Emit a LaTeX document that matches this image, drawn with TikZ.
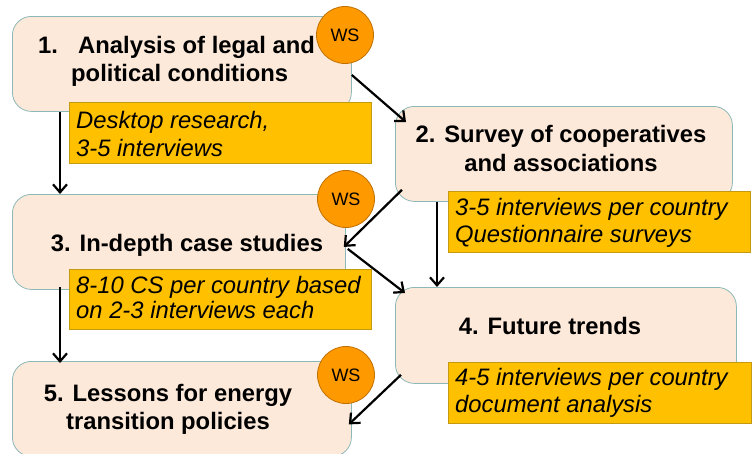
\documentclass[tikz,border=0pt]{standalone}
\usepackage{fontspec}
\setmainfont{Liberation Sans}
\usetikzlibrary{arrows.meta,calc}
\definecolor{boxfill}{HTML}{FDE9DA}
\definecolor{boxline}{HTML}{8DB8B8}
\definecolor{noteFill}{HTML}{FFC000}
\definecolor{noteLine}{HTML}{C49A10}
\definecolor{wsFill}{HTML}{FF9900}
\definecolor{wsLine}{HTML}{C07000}
\tikzset{
  stepbox/.style={draw=boxline, line width=0.8pt, fill=boxfill, rounded corners=19pt, inner sep=0pt, anchor=north west},
  notebox/.style={draw=noteLine, line width=0.8pt, fill=noteFill, inner sep=0pt, anchor=north west},
  wsnode/.style={draw=wsLine, line width=0.8pt, fill=wsFill, circle, minimum size=57pt, inner sep=0pt, font=\fontsize{18}{20}\selectfont},
  btext/.style={font=\fontsize{23.8}{28}\selectfont\bfseries, inner sep=0pt},
  itext/.style={font=\fontsize{23.8}{28}\selectfont\itshape, inner sep=0pt, anchor=base west},
  flow/.style={line width=2.2pt, -{Straight Barb[length=8pt,width=14pt,line width=2.2pt]}}
}
\begin{document}
\begin{tikzpicture}[x=1pt,y=-1pt]
\useasboundingbox (0,0) rectangle (755,453);
% step boxes
\node[stepbox, minimum width=339pt, minimum height=95pt] (b1) at (12,16) {};
\node[stepbox, minimum width=337pt, minimum height=95pt] (b2) at (395,106) {};
\node[stepbox, minimum width=333pt, minimum height=95pt] (b3) at (12,194) {};
\node[stepbox, minimum width=341pt, minimum height=96pt] (b4) at (395,287) {};
\node[stepbox, minimum width=339pt, minimum height=95pt] (b5) at (12,361) {};
% step texts
\node[btext, anchor=base west] (t1n) at (38,53) {1.};
\node[btext, anchor=base west] (t1a) at (78,53) {Analysis of legal and};
\node[btext, anchor=base west] (t1b) at (71,81) {political conditions};
\node[btext, anchor=base] (t2a) at (561,142) {2. Survey of cooperatives};
\node[btext, anchor=base] (t2b) at (561,171) {and associations};
\node[btext, anchor=base] (t3) at (187,251) {3. In-depth case studies};
\node[btext, anchor=base] (t4) at (550,334) {4. Future trends};
\node[btext, anchor=base] (t5a) at (168,401) {5. Lessons for energy};
\node[btext, anchor=base] (t5b) at (168,429) {transition policies};
% note boxes
\node[notebox, minimum width=302pt, minimum height=61pt] (n1) at (69,102) {};
\node[notebox, minimum width=302pt, minimum height=61pt] (n2) at (448,191) {};
\node[notebox, minimum width=302pt, minimum height=60pt] (n3) at (69,269) {};
\node[notebox, minimum width=303pt, minimum height=61pt] (n4) at (448,362) {};
\node[itext] (n1a) at (76,128) {Desktop research,};
\node[itext] (n1b) at (76,156) {3-5 interviews};
\node[itext] (n2a) at (455,215) {3-5 interviews per country};
\node[itext] (n2b) at (455,242) {Questionnaire surveys};
\node[itext] (n3a) at (76,293) {8-10 CS per country based};
\node[itext] (n3b) at (76,318) {on 2-3 interviews each};
\node[itext] (n4a) at (455,385) {4-5 interviews per country};
\node[itext] (n4b) at (455,412) {document analysis};
% WS circles
\node[wsnode] (w1) at (345,35) {WS};
\node[wsnode] (w3) at (346,199) {WS};
\node[wsnode] (w5) at (346,375) {WS};
% connectors
\draw[flow] ($(b1.south west)+(48,0)$) -- ($(b3.north west)+(48,0)$);
\draw[flow] ($(b3.south west)+(48,-3)$) -- ($(b5.north west)+(48,2)$);
\draw[flow] ($(b1.north east)+(0,59)$) -- ($(b2.north west)+(11,16)$);
\draw[flow] ($(b2.south west)+(7,-12)$) -- ($(b3.east)+(-2,5)$);
\draw[flow] ($(b3.east)+(2,7)$) -- ($(b4.north west)+(10,6)$);
\draw[flow] ($(b2.south west)+(42,0)$) -- ($(b4.north west)+(42,0)$);
\draw[flow] ($(b4.south west)+(6,-9)$) -- ($(b5.east)+(-3,15.5)$);
\end{tikzpicture}
\end{document}
